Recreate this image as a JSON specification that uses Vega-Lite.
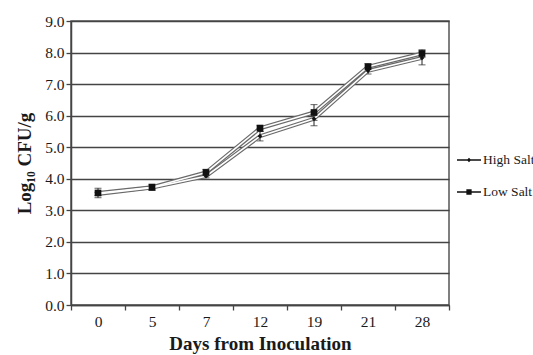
{
  "$schema": "https://vega.github.io/schema/vega-lite/v6.json",
  "width": 378,
  "height": 284,
  "autosize": "none",
  "padding": {"left": 71, "top": 21, "right": 84, "bottom": 50},
  "background": "white",
  "config": {
    "font": "Liberation Serif",
    "view": {"stroke": "#555", "strokeWidth": 1.5},
    "axis": {
      "labelFont": "Liberation Serif",
      "titleFont": "Liberation Serif",
      "labelColor": "#1a1a1a",
      "titleColor": "#1a1a1a",
      "labelFontSize": 15.5,
      "titleFontSize": 19,
      "titleFontWeight": "bold",
      "domainColor": "#444",
      "domainWidth": 1.5,
      "tickColor": "#444",
      "tickWidth": 1.3,
      "tickSize": 5
    }
  },
  "data": {
    "values": [
      {"day": 0, "series": "High Salt", "mean": 3.52, "err": 0.05},
      {"day": 5, "series": "High Salt", "mean": 3.72, "err": 0.05},
      {"day": 7, "series": "High Salt", "mean": 4.08, "err": 0.05},
      {"day": 12, "series": "High Salt", "mean": 5.35, "err": 0.15},
      {"day": 19, "series": "High Salt", "mean": 5.9, "err": 0.22},
      {"day": 21, "series": "High Salt", "mean": 7.42, "err": 0.1},
      {"day": 28, "series": "High Salt", "mean": 7.83, "err": 0.22},
      {"day": 0, "series": "Low Salt", "mean": 3.55, "err": 0.15},
      {"day": 5, "series": "Low Salt", "mean": 3.73, "err": 0.1},
      {"day": 7, "series": "Low Salt", "mean": 4.2, "err": 0.1},
      {"day": 12, "series": "Low Salt", "mean": 5.6, "err": 0.1},
      {"day": 19, "series": "Low Salt", "mean": 6.1, "err": 0.25},
      {"day": 21, "series": "Low Salt", "mean": 7.55, "err": 0.1},
      {"day": 28, "series": "Low Salt", "mean": 7.97, "err": 0.12}
    ]
  },
  "encoding": {
    "x": {
      "field": "day",
      "type": "ordinal",
      "scale": {"paddingInner": 0, "paddingOuter": 0},
      "axis": {
        "title": "Days from Inoculation",
        "labelAngle": 0,
        "tickBand": "extent",
        "labelPadding": 4,
        "titlePadding": 5
      }
    },
    "y": {
      "field": "mean",
      "type": "quantitative",
      "scale": {"domain": [0, 9], "nice": false},
      "axis": {
        "title": "Log₁₀ CFU/g",
        "values": [0, 1, 2, 3, 4, 5, 6, 7, 8, 9],
        "format": ".1f",
        "grid": true,
        "gridColor": "#444",
        "gridWidth": 1.4,
        "labelPadding": 2,
        "titlePadding": 10
      }
    }
  },
  "layer": [
    {
      "mark": {"type": "errorbar", "ticks": {"size": 7, "color": "#222"}, "rule": {"color": "#222", "strokeWidth": 1}},
      "encoding": {
        "y": {"field": "mean", "type": "quantitative", "scale": {"domain": [0, 9], "nice": false}},
        "yError": {"field": "err"}
      }
    },
    {
      "mark": {"type": "line", "color": "#6a6a6a", "strokeWidth": 4},
      "encoding": {"detail": {"field": "series"}}
    },
    {
      "mark": {"type": "line", "color": "white", "strokeWidth": 1.6},
      "encoding": {"detail": {"field": "series"}}
    },
    {
      "mark": {"type": "point", "filled": true, "color": "#111", "opacity": 1},
      "encoding": {
        "shape": {"field": "series", "type": "nominal", "scale": {"domain": ["High Salt", "Low Salt"], "range": ["diamond", "square"]}, "legend": null},
        "size": {"field": "series", "type": "nominal", "scale": {"domain": ["High Salt", "Low Salt"], "range": [22, 45]}, "legend": null}
      }
    },
    {
      "mark": {"type": "point", "filled": true, "color": "#111", "opacity": 0},
      "encoding": {
        "color": {
          "field": "series",
          "type": "nominal",
          "scale": {"domain": ["High Salt", "Low Salt"], "range": ["#111", "#111"]},
          "legend": {
            "title": null,
            "orient": "none",
            "legendX": 386,
            "legendY": 127,
            "padding": 0,
            "symbolSize": 576,
            "symbolOpacity": 1,
            "symbolStrokeWidth": 0,
            "labelFont": "Liberation Serif",
            "labelFontSize": 13.5,
            "labelColor": "#1a1a1a",
            "labelOffset": 2,
            "rowPadding": 13,
            "encode": {"symbols": {"update": {"opacity": {"value": 1}, "fillOpacity": {"value": 1}, "fill": {"value": "#111"}}}}
          }
        },
        "shape": {
          "field": "series",
          "type": "nominal",
          "scale": {"domain": ["High Salt", "Low Salt"], "range": ["M-1,-0.06H1V0.06H-1Z M0,-0.18L0.18,0L0,0.18L-0.18,0Z", "M-1,-0.06H1V0.06H-1Z M-0.22,-0.22H0.22V0.22H-0.22Z"]}
        }
      }
    }
  ],
  "resolve": {"scale": {"shape": "independent", "size": "independent", "color": "independent"}}
}
